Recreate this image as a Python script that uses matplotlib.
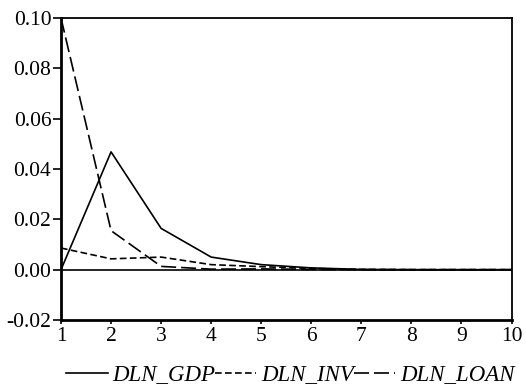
import matplotlib
matplotlib.use("Agg")
import matplotlib.pyplot as plt

periods = [1, 2, 3, 4, 5, 6, 7, 8, 9, 10]
dln_gdp = [0.0, 0.0468, 0.0164, 0.0050, 0.0020, 0.0007, 0.0001, 0.0, 0.0, 0.0]
dln_inv = [0.0086, 0.0043, 0.0050, 0.0020, 0.0012, 0.0005, 0.0001, 0.0, 0.0, 0.0]
dln_loan = [0.100, 0.0155, 0.0013, 0.0002, 0.0003, 0.0001, 0.0, 0.0, 0.0, 0.0]
yticks = [-0.02, 0.00, 0.02, 0.04, 0.06, 0.08, 0.10]

plt.rcParams['font.family'] = ['Liberation Serif', 'DejaVu Serif']

fig = plt.figure(figsize=(5.26, 3.89), dpi=100)
ax = fig.add_axes([61/526, 1-320/389, (511.5-61)/526, (320-18)/389])

ax.axhline(0, color='black', lw=1.2)
l1, = ax.plot(periods, dln_gdp, color='black', lw=1.2, ls='-', label='DLN_GDP')
l2, = ax.plot(periods, dln_inv, color='black', lw=1.2, ls=(0, (4, 2)), label='DLN_INV')
l3, = ax.plot(periods, dln_loan, color='black', lw=1.2, ls=(0, (9, 3)), label='DLN_LOAN')

ax.set_xlim(1, 10)
ax.set_ylim(-0.02, 0.10)
ax.set_xticks(periods)
ax.set_yticks(yticks)
ax.set_yticklabels([f"{v:.2f}" for v in yticks])
ax.tick_params(axis='both', labelsize=15.5, direction='out', width=1.2, pad=1)
ax.tick_params(axis='y', length=6)
ax.tick_params(axis='x', length=3, pad=2)
for s in ['left', 'bottom']:
    ax.spines[s].set_linewidth(2.0)
for s in ['top', 'right']:
    ax.spines[s].set_linewidth(1.3)

leg = fig.legend(handles=[l1, l2, l3], loc='center', bbox_to_anchor=(0.552, 1-375/389),
                 ncol=3, frameon=False, handlelength=1.8, handletextpad=0.2,
                 columnspacing=0.0, prop={'style': 'italic', 'size': 16.5})

fig.savefig('out.png', dpi=100)
